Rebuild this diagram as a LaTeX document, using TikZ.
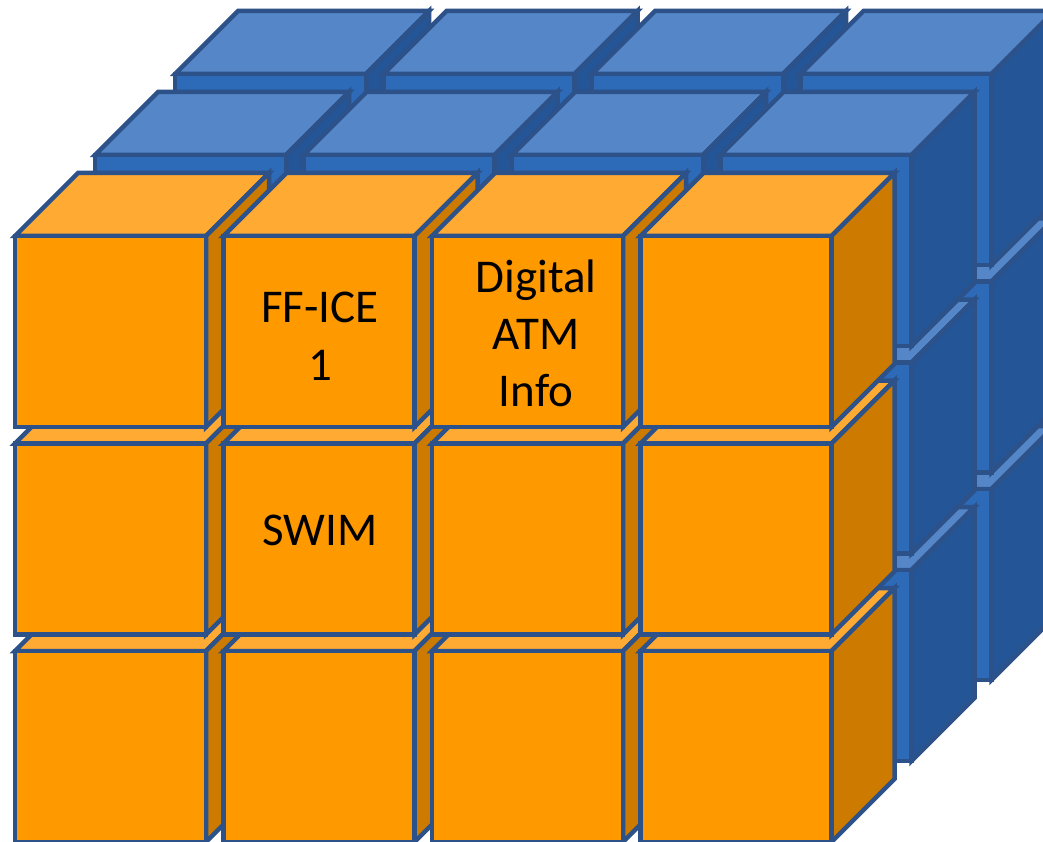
\documentclass[tikz,border=0pt]{standalone}
\usepackage{fontspec}
\setmainfont{Carlito}
\definecolor{outl}{HTML}{2C5289}
\definecolor{ofront}{HTML}{FF9900}
\definecolor{otop}{HTML}{FFAA33}
\definecolor{oside}{HTML}{CC7A00}
\definecolor{bfront}{HTML}{2D6AB8}
\definecolor{btop}{HTML}{5586C7}
\definecolor{bside}{HTML}{245596}
\newcommand\drawcube[5]{%
  \filldraw[cubeline, fill=#4] (#1,#2) -- ++(63,-63) -- ++(191,0) -- ++(-63,63) -- cycle;
  \filldraw[cubeline, fill=#5] ({#1+191},#2) -- ++(63,-63) -- ++(0,191) -- ++(-63,63) -- cycle;
  \filldraw[cubeline, fill=#3] (#1,#2) rectangle ++(191,191);
}
\begin{document}
\begin{tikzpicture}[x=1pt,y=-1pt,
  cubeline/.style={draw=outl, line width=4.5pt, line join=miter},
  lbl/.style={anchor=base, inner sep=0pt, text=black, font=\fontsize{47}{57}\selectfont}]
\clip (0,0) rectangle (1043,842);
\fill[white] (0,0) rectangle (1043,842);
\foreach \ox/\oy/\cf/\ct/\cs in {175/74/bfront/btop/bside, 95/155/bfront/btop/bside, 15/236/ofront/otop/oside} {
  \foreach \r in {2,1,0} {
    \foreach \c in {0,1,2,3} {
      \pgfmathsetmacro\X{\ox+\c*208.5}
      \pgfmathsetmacro\Y{\oy+\r*207.5}
      \drawcube{\X}{\Y}{\cf}{\ct}{\cs}
    }
  }
}
\node[lbl] (t1a) at (320,322) {FF-ICE};
\node[lbl] (t1b) at (320,380) {1};
\node[lbl] (t2a) at (536,292) {Digital};
\node[lbl] (t2b) at (536,349) {ATM};
\node[lbl] (t2c) at (536,406) {Info};
\node[lbl] (t3) at (320,545) {SWIM};
\end{tikzpicture}
\end{document}
